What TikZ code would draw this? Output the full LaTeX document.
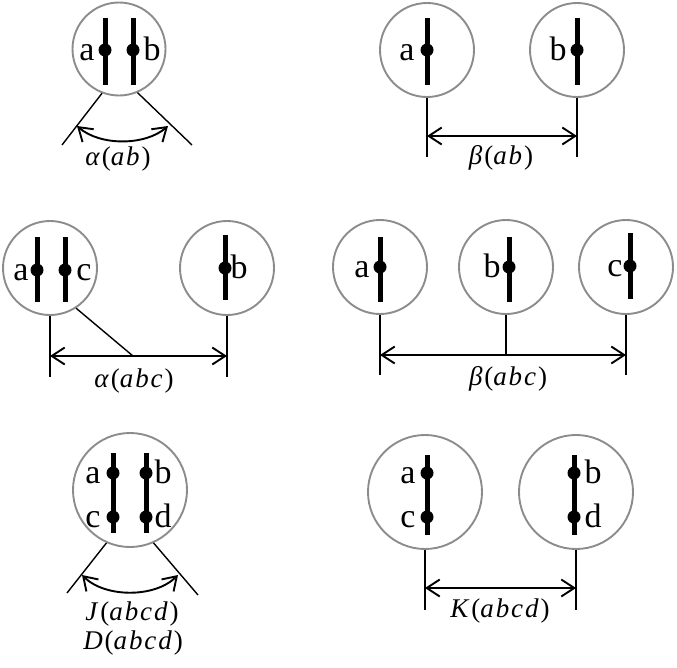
\documentclass[tikz,border=0pt]{standalone}
\usepackage{fontspec}
\setmainfont{Liberation Serif}
\usetikzlibrary{arrows.meta}
\definecolor{ringgray}{RGB}{140,140,140}
\tikzset{
 ring/.style={circle, draw=ringgray, line width=1.9pt, inner sep=0pt, minimum size=#1},
 bar/.style={line width=5pt},
 lbl/.style={font=\fontsize{34}{36}\selectfont, anchor=base, inner sep=0pt},
 mlbl/.style={font=\fontsize{27}{30}\selectfont\addfontfeatures{LetterSpace=7}, inner sep=0pt},
 guide/.style={line width=1.4pt},
 dim/.style={line width=1.9pt, {Straight Barb[length=13pt,width=17pt]}-{Straight Barb[length=13pt,width=17pt]}},
}
\begin{document}
\begin{tikzpicture}[x=1pt,y=-1pt]
\useasboundingbox (0,0) rectangle (677,667);
% ---------- panel 1 ----------
\node[ring=93] (p1) at (119,49) {};
\draw[bar] (105,18) -- (105,85);
\draw[bar] (133,18) -- (133,85);
\fill (105,50) circle (6.5pt);
\fill (133,50) circle (6.5pt);
\node[lbl] (p1a) at (87,60) {a};
\node[lbl] (p1b) at (152,60) {b};
\coordinate (p1l) at (62,145);
\coordinate (p1r) at (192,145);
\draw[guide] (p1.249) -- (p1l);
\draw[guide] (p1.293) -- (p1r);
\coordinate (p1u) at (77,126);
\coordinate (p1v) at (168,126);
\draw[dim] (p1u) .. controls (100,146) and (145,146) .. (p1v);
\node[mlbl] (p1t) at (118,159) {\textit{α}(\textit{ab})};
% ---------- panel 2 ----------
\node[ring=94] (p2a) at (427,50) {};
\node[ring=94] (p2b) at (577,50) {};
\draw[bar] (427,18) -- (427,85);
\draw[bar] (577,18) -- (577,85);
\fill (427,50) circle (6.5pt);
\fill (577,50) circle (6.5pt);
\node[lbl] (p2la) at (407,60) {a};
\node[lbl] (p2lb) at (558,60) {b};
\coordinate (p2ea) at (427,157);
\coordinate (p2eb) at (577,157);
\draw[guide] (p2a.south) -- (p2ea);
\draw[guide] (p2b.south) -- (p2eb);
\coordinate (p2da) at (427,136);
\coordinate (p2db) at (577,136);
\draw[dim] (p2da) -- (p2db);
\node[mlbl] (p2t) at (501,158) {\textit{β}(\textit{ab})};
% ---------- panel 3 ----------
\node[ring=94] (p3a) at (50,268) {};
\node[ring=94] (p3b) at (227,268) {};
\draw[bar] (37,237) -- (37,302);
\draw[bar] (65,237) -- (65,302);
\draw[bar] (225,235) -- (225,300);
\fill (37,270) circle (6.5pt);
\fill (65,270) circle (6.5pt);
\fill (225,268) circle (6.5pt);
\node[lbl] (p3la) at (21,280) {a};
\node[lbl] (p3lc) at (84,280) {c};
\node[lbl] (p3lb) at (239,278) {b};
\coordinate (p3ea) at (50,377);
\coordinate (p3eb) at (227,377);
\draw[guide] (p3a.south) -- (p3ea);
\draw[guide] (p3b.south) -- (p3eb);
\coordinate (p3da) at (50,356);
\coordinate (p3db) at (227,356);
\coordinate (p3m) at (133,356);
\draw[dim] (p3da) -- (p3db);
\draw[guide] (p3a.303) -- (p3m);
\node[mlbl] (p3t) at (134,381) {\textit{α}(\textit{abc})};
% ---------- panel 4 ----------
\node[ring=94] (p4a) at (380,267) {};
\node[ring=94] (p4b) at (506,267) {};
\node[ring=94] (p4c) at (626,267) {};
\draw[bar] (380,237) -- (380,302);
\draw[bar] (509,237) -- (509,302);
\draw[bar] (630,233) -- (630,299);
\fill (380,267) circle (6.5pt);
\fill (509,267) circle (6.5pt);
\fill (630,266) circle (6.5pt);
\node[lbl] (p4la) at (362,277) {a};
\node[lbl] (p4lb) at (492,277) {b};
\node[lbl] (p4lc) at (615,276) {c};
\coordinate (p4ea) at (380,375);
\coordinate (p4eb) at (506,355);
\coordinate (p4ec) at (626,375);
\draw[guide] (p4a.south) -- (p4ea);
\draw[guide] (p4b.south) -- (p4eb);
\draw[guide] (p4c.south) -- (p4ec);
\coordinate (p4da) at (380,355);
\coordinate (p4dc) at (626,355);
\draw[dim] (p4da) -- (p4dc);
\node[mlbl] (p4t) at (508,379) {\textit{β}(\textit{abc})};
% ---------- panel 5 ----------
\node[ring=114] (p5) at (130,490) {};
\draw[bar] (113,453) -- (113,533);
\draw[bar] (146,453) -- (146,533);
\fill (113,473) circle (6.5pt);
\fill (113,517) circle (6.5pt);
\fill (146,473) circle (6.5pt);
\fill (146,517) circle (6.5pt);
\node[lbl] (p5la) at (93,483) {a};
\node[lbl] (p5lc) at (93,527) {c};
\node[lbl] (p5lb) at (163,483) {b};
\node[lbl] (p5ld) at (163,527) {d};
\coordinate (p5l) at (67,593);
\coordinate (p5r) at (198,595);
\draw[guide] (p5.246) -- (p5l);
\draw[guide] (p5.294) -- (p5r);
\coordinate (p5u) at (82,575);
\coordinate (p5v) at (178,575);
\draw[dim] (p5u) .. controls (105,598) and (155,598) .. (p5v);
\node[mlbl] (p5t) at (132,614) {\textit{J}(\textit{abcd})};
\node[mlbl] (p5s) at (133,643) {\textit{D}(\textit{abcd})};
% ---------- panel 6 ----------
\node[ring=114] (p6a) at (425,492) {};
\node[ring=114] (p6b) at (576,492) {};
\draw[bar] (427,455) -- (427,535);
\draw[bar] (574,455) -- (574,535);
\fill (427,473) circle (6.5pt);
\fill (427,517) circle (6.5pt);
\fill (574,473) circle (6.5pt);
\fill (574,517) circle (6.5pt);
\node[lbl] (p6la) at (408,483) {a};
\node[lbl] (p6lc) at (408,527) {c};
\node[lbl] (p6lb) at (593,483) {b};
\node[lbl] (p6ld) at (593,527) {d};
\coordinate (p6ea) at (425,610);
\coordinate (p6eb) at (576,610);
\draw[guide] (p6a.south) -- (p6ea);
\draw[guide] (p6b.south) -- (p6eb);
\coordinate (p6da) at (425,588);
\coordinate (p6db) at (576,588);
\draw[dim] (p6da) -- (p6db);
\node[mlbl] (p6t) at (500,611) {\textit{K}(\textit{abcd})};
\end{tikzpicture}
\end{document}
